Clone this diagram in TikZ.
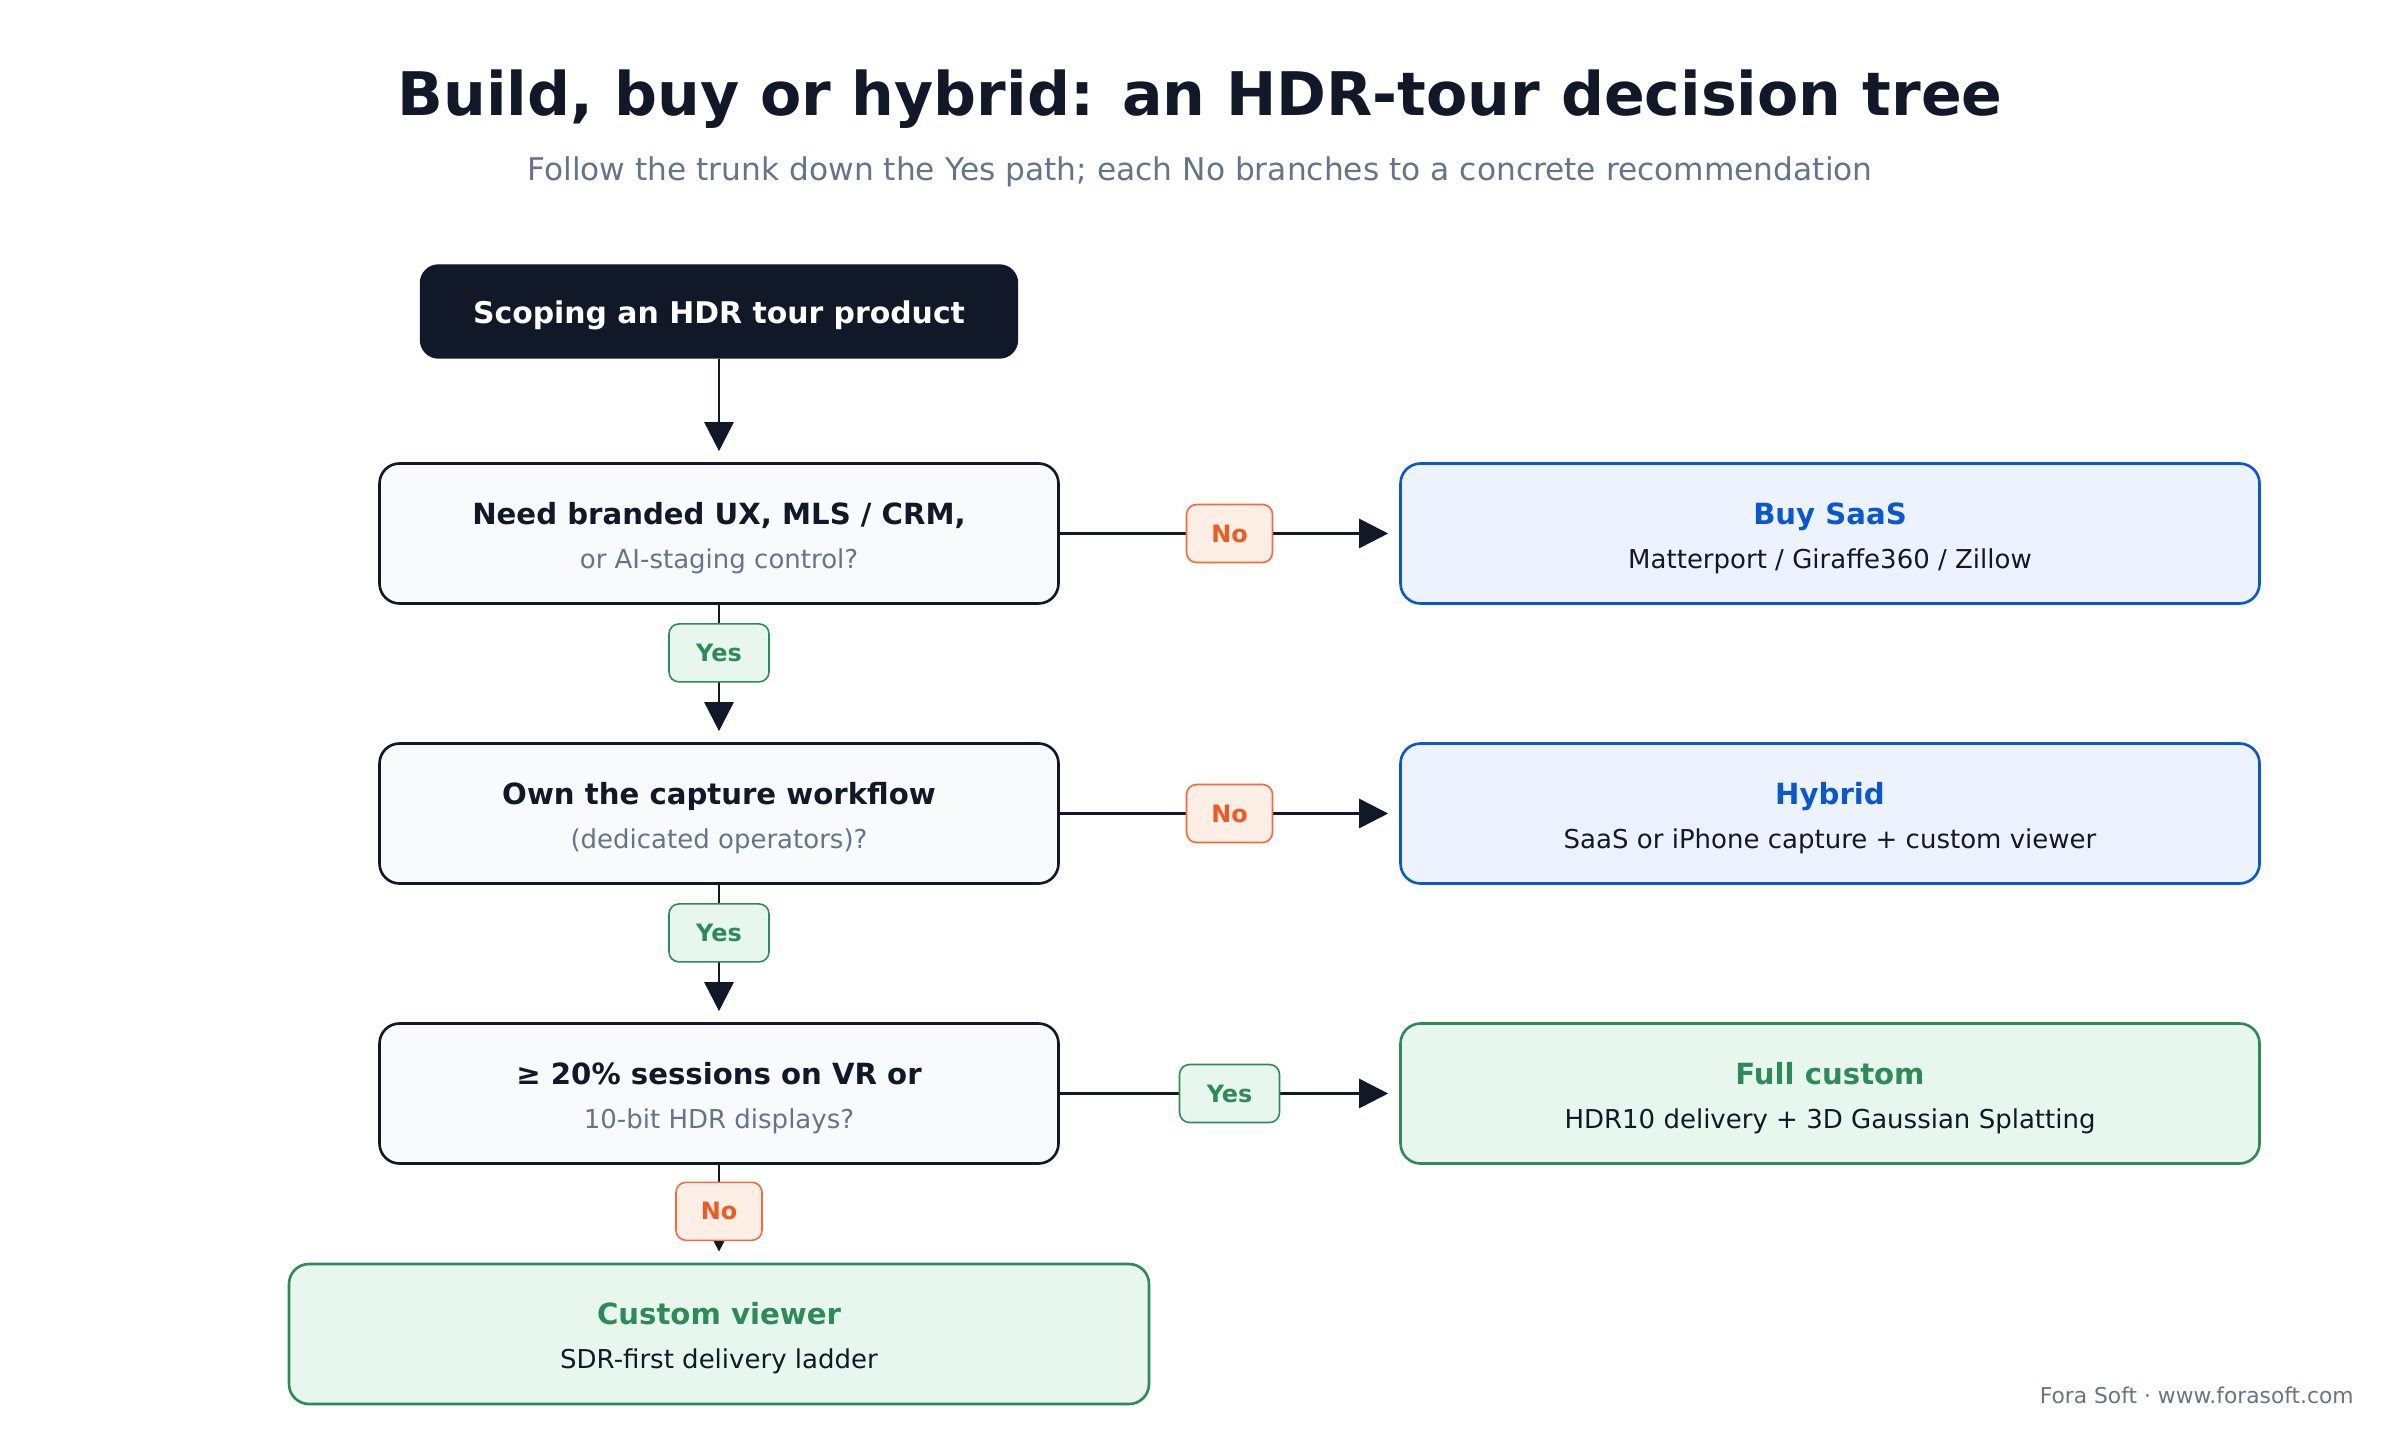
\documentclass[tikz,border=0pt]{standalone}
\usepackage{fontspec}
\setmainfont{DejaVu Sans}
\usetikzlibrary{arrows.meta}

\definecolor{ink}{HTML}{111827}
\definecolor{subgray}{HTML}{64748B}
\definecolor{qfill}{HTML}{F8FAFC}
\definecolor{saasblue}{HTML}{0B57D0}
\definecolor{saasfill}{HTML}{EDF3FE}
\definecolor{buildgreen}{HTML}{2E8B57}
\definecolor{buildfill}{HTML}{E8F7EE}
\definecolor{noorange}{HTML}{F26B3A}
\definecolor{notext}{HTML}{F05A22}
\definecolor{nofill}{HTML}{FDEEE6}
\definecolor{footgray}{HTML}{6B7280}

\def\duo#1#2#3#4{{\rule{0pt}{8.8pt}\bfseries\color{#1}#2}\\{\fontsize{7.4}{12.6}\selectfont\color{#3}#4}}

\tikzset{
	rootbox/.style={fill=ink, draw=ink, rounded corners=0.18cm, minimum width=5.97cm, minimum height=0.93cm, text height=8.8pt, text depth=2pt, text=white, font=\fontsize{8.5}{12.6}\selectfont\bfseries},
	qbox/.style={fill=qfill, draw=ink, line width=0.75pt, rounded corners=0.2cm, minimum width=6.79cm, minimum height=1.40cm, align=center, font=\fontsize{8.3}{12.6}\selectfont},
	saasbox/.style={qbox, fill=saasfill, draw=saasblue, minimum width=8.59cm},
	buildbox/.style={qbox, fill=buildfill, draw=buildgreen, minimum width=8.59cm},
	flow/.style={draw=ink, line width=0.8pt, shorten >=0.11cm, -{Triangle[length=0.29cm, width=0.29cm]}},
	yeslbl/.style={fill=buildfill, draw=buildgreen, line width=0.45pt, rounded corners=0.1cm, minimum width=1.0cm, minimum height=0.58cm, inner sep=0pt, text=buildgreen, font=\fontsize{6.8}{8}\selectfont\bfseries},
	nolbl/.style={yeslbl, fill=nofill, draw=noorange, text=notext, minimum width=0.86cm}
}

\begin{document}
\begin{tikzpicture}
			%%%%% START %%%%%
			\useasboundingbox (0, 0) rectangle (24, 14.4);
			
			\node[anchor=base, text=ink, font=\fontsize{17.1}{20}\selectfont\bfseries] (title) at (12, 13.24) {Build, buy or hybrid: an HDR-tour decision tree};
			\node[anchor=base, text=subgray, font=\fontsize{8.9}{10}\selectfont] (subtitle) at (12, 12.59) {Follow the trunk down the Yes path; each No branches to a concrete recommendation};
			
			% trunk
			\node[rootbox] (root) at (7.19, 11.285) {Scoping an HDR tour product};
			\node[qbox] (q1) at (7.19, 9.065) {\duo{ink}{Need branded UX, MLS / CRM,}{subgray}{or AI-staging control?}};
			\node[qbox] (q2) at (7.19, 6.265) {\duo{ink}{Own the capture workflow}{subgray}{(dedicated operators)?}};
			\node[qbox] (q3) at (7.19, 3.465) {\duo{ink}{≥ 20\% sessions on VR or}{subgray}{10-bit HDR displays?}};
			
			% outcomes
			\node[saasbox] (saas) at (18.30, 9.065) {\duo{saasblue}{Buy SaaS}{ink}{Matterport / Giraffe360 / Zillow}};
			\node[saasbox] (hybrid) at (18.30, 6.265) {\duo{saasblue}{Hybrid}{ink}{SaaS or iPhone capture + custom viewer}};
			\node[buildbox] (full) at (18.30, 3.465) {\duo{buildgreen}{Full custom}{ink}{HDR10 delivery + 3D Gaussian Splatting}};
			\node[buildbox, minimum width=8.6cm] (viewer) at (7.19, 1.06) {\duo{buildgreen}{Custom viewer}{ink}{SDR-first delivery ladder}};
			
			\draw[flow] (root) -- (q1);
			\draw[flow] (q1) -- node[yeslbl, pos=0.35] (y1) {Yes} (q2);
			\draw[flow] (q2) -- node[yeslbl, pos=0.35] (y2) {Yes} (q3);
			\draw[flow] (q3) -- node[nolbl, pos=0.475] (n3) {No} (viewer);
			
			\draw[flow] (q1) -- node[nolbl] (n1) {No} (saas);
			\draw[flow] (q2) -- node[nolbl] (n2) {No} (hybrid);
			\draw[flow] (q3) -- node[yeslbl] (y3) {Yes} (full);
			
			\node[anchor=base east, text=footgray, font=\fontsize{6.2}{8}\selectfont] (footer) at (23.66, 0.37) {Fora Soft · www.forasoft.com};
			%%%%% END %%%%%
\end{tikzpicture}
\end{document}
